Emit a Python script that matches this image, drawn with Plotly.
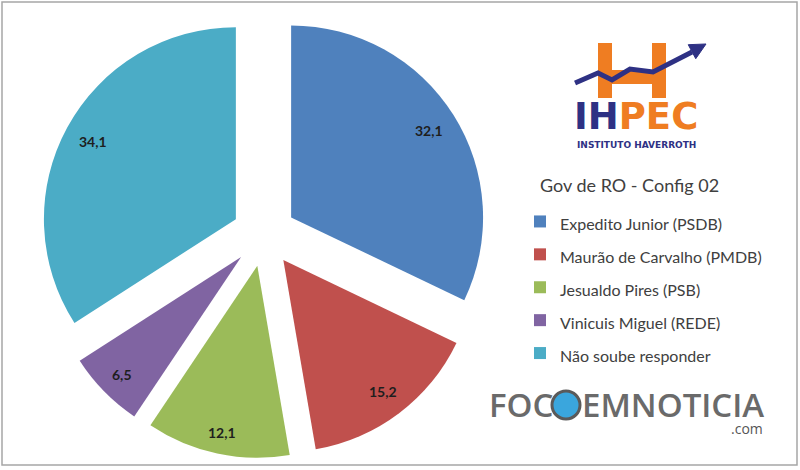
import math
import plotly.graph_objects as go

# ---- data ----
candidates = ["Expedito Junior (PSDB)", "Maurão de Carvalho (PMDB)", "Jesualdo Pires (PSB)",
              "Vinicuis Miguel (REDE)", "Não soube responder"]
values = [32.1, 15.2, 12.1, 6.5, 34.1]
value_labels = ["32,1", "15,2", "12,1", "6,5", "34,1"]
colors = ["#4F81BD", "#C0504D", "#9BBB59", "#8064A2", "#4BACC6"]
legend_title = "Gov de RO - Config 02"

W, H = 800, 470
PULL = 0.167
dom_x = [40 / W, 488 / W]
dom_y = [1 - 458.5 / H, 1 - 10.5 / H]

legend_names = ['<span style="font-size:16px">%s</span>' % c for c in candidates]

fig = go.Figure(go.Pie(
    labels=legend_names,
    values=values,
    sort=False,
    direction="clockwise",
    rotation=0,
    pull=[PULL] * len(values),
    marker=dict(colors=colors, line=dict(width=0)),
    textinfo="none",
    hoverinfo="label+value",
    domain=dict(x=dom_x, y=dom_y),
    showlegend=True,
))


def P(x, y):
    return x / W, 1 - y / H


def txt(x, y, text, size, color="#404040", family="Lato", weight="normal", xa="center", ya="middle"):
    px, py = P(x, y)
    return dict(x=px, y=py, xref="paper", yref="paper", text=text, showarrow=False,
                xanchor=xa, yanchor=ya,
                font=dict(family=family, size=size, color=color, weight=weight))


# value labels placed from the slice angles (derived from the data)
box_w = W * (dom_x[1] - dom_x[0])
box_h = H * (dom_y[1] - dom_y[0])
r = min(box_w, box_h) / (2 + 2 * PULL)
cx = W * (dom_x[0] + dom_x[1]) / 2
cy = H * (1 - dom_y[0]) - box_h / 2
total = sum(values)
cum = 0.0
annotations = []
for v, lab in zip(values, value_labels):
    mid = 2 * math.pi * (cum + v / 2) / total
    cum += v
    dx, dy = math.sin(mid), -math.cos(mid)
    half_w = 4.3 * len(lab)
    ext = half_w * abs(dx) + 8 * abs(dy)
    dist = r * (1 + PULL) - 10 - ext
    annotations.append(txt(cx + dist * dx, cy + dist * dy, lab, 14, "#1E1E1E", weight="bold"))

# legend title
annotations.append(txt(538, 185, legend_title, 18, xa="left"))

# logo texts
annotations.append(txt(636, 116, '<span style="color:#2E3184">IH</span><span style="color:#EF7D22">PEC</span>',
                       37, family="DejaVu Sans", weight="bold"))
annotations.append(txt(636, 145, "INSTITUTO HAVERROTH", 9, "#2E3184", family="DejaVu Sans", weight="bold"))
# watermark
annotations.append(txt(487, 404, "FOC", 33, "#6A6A6A", family="Open Sans", weight=600, xa="left"))
annotations.append(txt(580, 404, "EMNOTICIA", 33, "#6A6A6A", family="Open Sans", weight=600, xa="left"))
annotations.append(txt(765, 428, ".com", 14, "#555555", family="Open Sans", xa="right"))

shapes = []
# border
shapes.append(dict(type="rect", xref="paper", yref="paper", x0=2 / W, x1=797 / W,
                   y0=1 - 465 / H, y1=1 - 2 / H, line=dict(color="#A6A6A6", width=1.5)))
# orange H
for (x0, y0, x1, y1) in [(598, 43, 612, 98), (652, 43, 666, 98), (612, 70, 652, 84)]:
    a, b = P(x0, y1)
    c, d = P(x1, y0)
    shapes.append(dict(type="rect", xref="paper", yref="paper", x0=a, y0=b, x1=c, y1=d,
                       fillcolor="#EF7D22", line=dict(width=0)))
# navy trend line
pts = [(575, 83), (598, 73), (612, 80), (630, 69), (653, 72), (692, 52)]
path = "M " + " L ".join("%.4f,%.4f" % P(x, y) for x, y in pts)
shapes.append(dict(type="path", xref="paper", yref="paper", path=path,
                   line=dict(color="#2E3184", width=5)))
head = [(706, 44), (695.8, 58.7), (688.2, 44.7)]
shapes.append(dict(type="path", xref="paper", yref="paper",
                   path="M " + " L ".join("%.4f,%.4f" % P(x, y) for x, y in head) + " Z",
                   fillcolor="#2E3184", line=dict(color="#2E3184", width=1)))
# camera lens in watermark
a, b = P(552, 419)
c, d = P(580, 391)
shapes.append(dict(type="circle", xref="paper", yref="paper", x0=a, y0=b, x1=c, y1=d,
                   fillcolor="#3AA6DD", line=dict(color="#5A5A5A", width=3)))

fig.update_layout(
    width=W, height=H,
    margin=dict(l=0, r=0, t=0, b=0),
    paper_bgcolor="white",
    plot_bgcolor="white",
    showlegend=True,
    legend=dict(
        x=520 / W, y=1 - 200 / H, xanchor="left", yanchor="top",
        font=dict(family="Lato", size=23, color="#404040"),
        bgcolor="rgba(0,0,0,0)",
    ),
    annotations=annotations,
    shapes=shapes,
)

fig.write_html("out.html", config={"displayModeBar": False},
               post_script="document.body.style.margin='0';")
